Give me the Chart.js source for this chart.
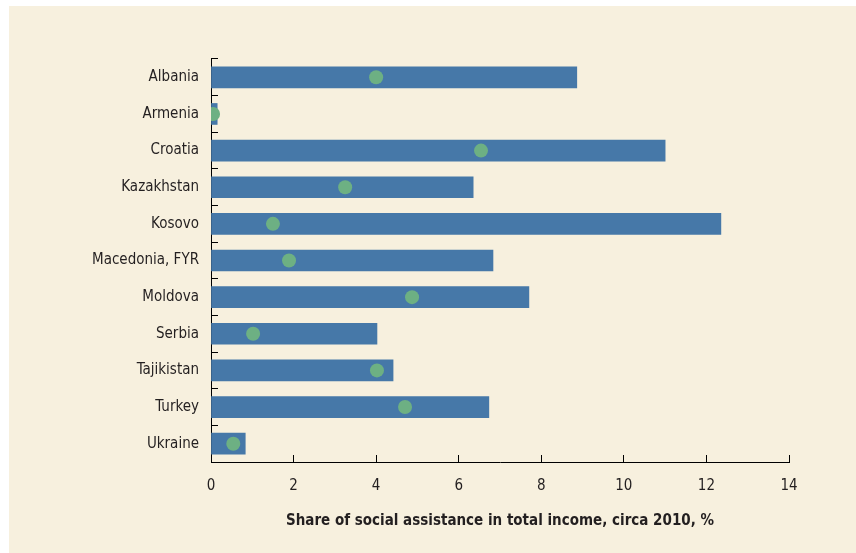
<!DOCTYPE html>
<html>
<head>
<meta charset="utf-8">
<script src="https://cdn.jsdelivr.net/npm/chart.js@4"></script>
<style>
    html, body { margin: 0; padding: 0; background: #ffffff; }
    #panel {
        position: absolute;
        left: 9px; top: 6px;
        width: 847px; height: 547px;
        background: #f7f0de;
    }
</style>
</head>
<body>
<div id="panel"><canvas id="assistChart" width="847" height="547"></canvas></div>
<script>
// Countries, bar values (share of social assistance) and dot values
const countries = ['Albania', 'Armenia', 'Croatia', 'Kazakhstan', 'Kosovo', 'Macedonia, FYR',
    'Moldova', 'Serbia', 'Tajikistan', 'Turkey', 'Ukraine'];
const shareValues = [8.86, 0.15, 11.0, 6.35, 12.35, 6.83, 7.70, 4.02, 4.41, 6.73, 0.83];
const dotValues = [4.0, 0.05, 6.54, 3.25, 1.50, 1.89, 4.87, 1.02, 4.02, 4.70, 0.54];
const xTicks = [0, 2, 4, 6, 8, 10, 12, 14];
const xTitle = 'Share of social assistance in total income, circa 2010, %';

const textColor = '#231f20';
const barColor = '#4678a8';
const dotColor = '#6db083';

Chart.defaults.font.family = "'DejaVu Sans Condensed', 'Liberation Sans', sans-serif";
Chart.defaults.font.size = 15;
Chart.defaults.color = textColor;

const ctx = document.getElementById('assistChart');
new Chart(ctx, {
    data: {
        labels: countries,
        datasets: [{
            type: 'line',
            data: dotValues,
            showLine: false,
            pointRadius: 7,
            pointHoverRadius: 7,
            pointBorderWidth: 0,
            pointBackgroundColor: dotColor,
            order: 0
        }, {
            type: 'bar',
            data: shareValues,
            backgroundColor: barColor,
            barThickness: 21,
            order: 1
        }]
    },
    options: {
        indexAxis: 'y',
        responsive: false,
        animation: false,
        layout: { padding: { left: 0, right: 67, top: 53, bottom: 0 } },
        scales: {
            x: {
                type: 'linear',
                min: 0,
                max: 14,
                afterBuildTicks: s => { s.ticks = xTicks.map(v => ({ value: v })); },
                afterFit: s => { s.height = 91; },
                ticks: { color: textColor, padding: 22, font: { size: 15 } },
                grid: { drawOnChartArea: false, tickLength: -7, color: '#000', lineWidth: 1 },
                border: { color: '#000', width: 1 },
                title: {
                    display: true,
                    text: xTitle,
                    color: textColor,
                    font: { size: 15, weight: 'bold' },
                    padding: { top: 0, bottom: 23 }
                }
            },
            y: {
                type: 'category',
                offset: true,
                afterFit: s => { s.width = 202; },
                ticks: { color: textColor, padding: 19, autoSkip: false, font: { size: 15 } },
                grid: { drawOnChartArea: false, offset: true, tickLength: -7, color: '#000', lineWidth: 1 },
                border: { color: '#000', width: 1 }
            }
        },
        plugins: {
            legend: { display: false },
            tooltip: { enabled: false }
        }
    }
});
</script>
</body>
</html>
